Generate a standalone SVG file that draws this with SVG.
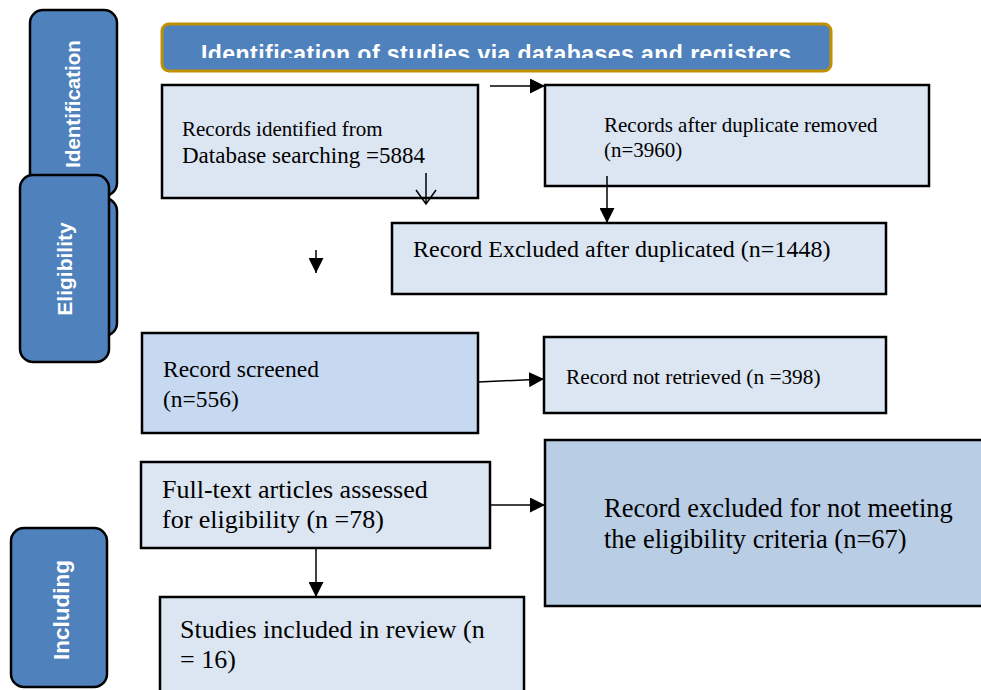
<svg xmlns="http://www.w3.org/2000/svg" width="981" height="690" viewBox="0 0 981 690">
<style>
.side{fill:#4F81BD;stroke:#000;stroke-width:2.5}
.box{fill:#DCE6F2;stroke:#000;stroke-width:2.5}
.sl{font-family:"Liberation Sans",Arial,sans-serif;font-weight:bold;fill:#fff;text-anchor:middle}
.t{font-family:"Liberation Serif","Times New Roman",serif;fill:#000}
.c{stroke:#000;stroke-width:1.5;fill:none}
</style>
<defs>
<marker id="ah" markerUnits="userSpaceOnUse" markerWidth="16" markerHeight="15" refX="15" refY="7.5" orient="auto">
<path d="M0,0 L15,7.5 L0,15 Z" fill="#000"/>
</marker>
<clipPath id="tc"><rect x="162" y="22" width="670" height="36"/></clipPath>
</defs>
<rect width="981" height="690" fill="#fff"/>
<g id="side-identification">
<rect class="side" x="30" y="10" width="87" height="186" rx="13"/>
<text class="sl" font-size="20.5" transform="translate(80,104) rotate(-90)">Identification</text>
</g>
<g id="side-shadow">
<rect class="side" x="28" y="198" width="89" height="138" rx="13"/>
</g>
<g id="side-eligibility">
<rect class="side" x="20" y="175" width="89" height="187" rx="13"/>
<text class="sl" font-size="21" transform="translate(72,269) rotate(-90)">Eligibility</text>
</g>
<g id="side-including">
<rect class="side" x="11" y="528" width="96" height="159" rx="13"/>
<text class="sl" font-size="22.5" transform="translate(69,610) rotate(-90)">Including</text>
</g>
<g id="title">
<rect x="162" y="24" width="669" height="47" rx="7" fill="#4F81BD" stroke="#BF9000" stroke-width="3"/>
<text class="sl" clip-path="url(#tc)" x="201" y="62" font-size="23" text-anchor="start" textLength="590" style="text-anchor:start">Identification of studies via databases and registers</text>
</g>
<g id="n-records-identified">
<rect class="box" x="162" y="85" width="316" height="113"/>
<text class="t" x="182" y="136" font-size="21">Records identified from</text>
<text class="t" x="182" y="163" font-size="23">Database searching =5884</text>
</g>
<g id="n-after-duplicates">
<rect class="box" x="545" y="85" width="384" height="101"/>
<text class="t" x="604" y="132" font-size="21">Records after duplicate removed</text>
<text class="t" x="604" y="157" font-size="21">(n=3960)</text>
</g>
<g id="n-excluded-duplicated">
<rect class="box" x="392" y="223" width="494" height="71"/>
<text class="t" x="413" y="257" font-size="24">Record Excluded after duplicated (n=1448)</text>
</g>
<g id="n-screened">
<rect class="box" x="142" y="333" width="336" height="100" style="fill:#C6D9F1"/>
<text class="t" x="163" y="377" font-size="23.5">Record screened</text>
<text class="t" x="163" y="407" font-size="23.5">(n=556)</text>
</g>
<g id="n-not-retrieved">
<rect class="box" x="544" y="337" width="342" height="76"/>
<text class="t" x="566" y="384" font-size="21.3">Record not retrieved (n =398)</text>
</g>
<g id="n-fulltext">
<rect class="box" x="141" y="462" width="349" height="86"/>
<text class="t" x="162" y="498" font-size="26">Full-text articles assessed</text>
<text class="t" x="162" y="528" font-size="26">for eligibility (n =78)</text>
</g>
<g id="n-included">
<rect class="box" x="160" y="597" width="364" height="110"/>
<text class="t" x="180" y="638" font-size="26">Studies included in review (n</text>
<text class="t" x="180" y="668" font-size="26">= 16)</text>
</g>
<g id="n-excluded-criteria">
<rect class="box" x="545" y="440" width="450" height="166" style="fill:#B9CDE5"/>
<text class="t" x="604" y="517" font-size="26.5">Record excluded for not meeting</text>
<text class="t" x="604" y="548" font-size="26.5">the eligibility criteria (n=67)</text>
</g>
<g id="connectors">
<line class="c" x1="490" y1="86" x2="545" y2="86" marker-end="url(#ah)"/>
<line class="c" x1="426" y1="173" x2="426" y2="204"/>
<polyline class="c" points="416,190 426,204 436,190"/>
<line class="c" x1="607" y1="176" x2="607" y2="223" marker-end="url(#ah)"/>
<line class="c" x1="316" y1="250" x2="316" y2="273" marker-end="url(#ah)"/>
<line class="c" x1="478" y1="382" x2="544" y2="379" marker-end="url(#ah)"/>
<line class="c" x1="490" y1="505" x2="545" y2="505" marker-end="url(#ah)"/>
<line class="c" x1="316" y1="548" x2="316" y2="597" marker-end="url(#ah)"/>
</g>
</svg>
